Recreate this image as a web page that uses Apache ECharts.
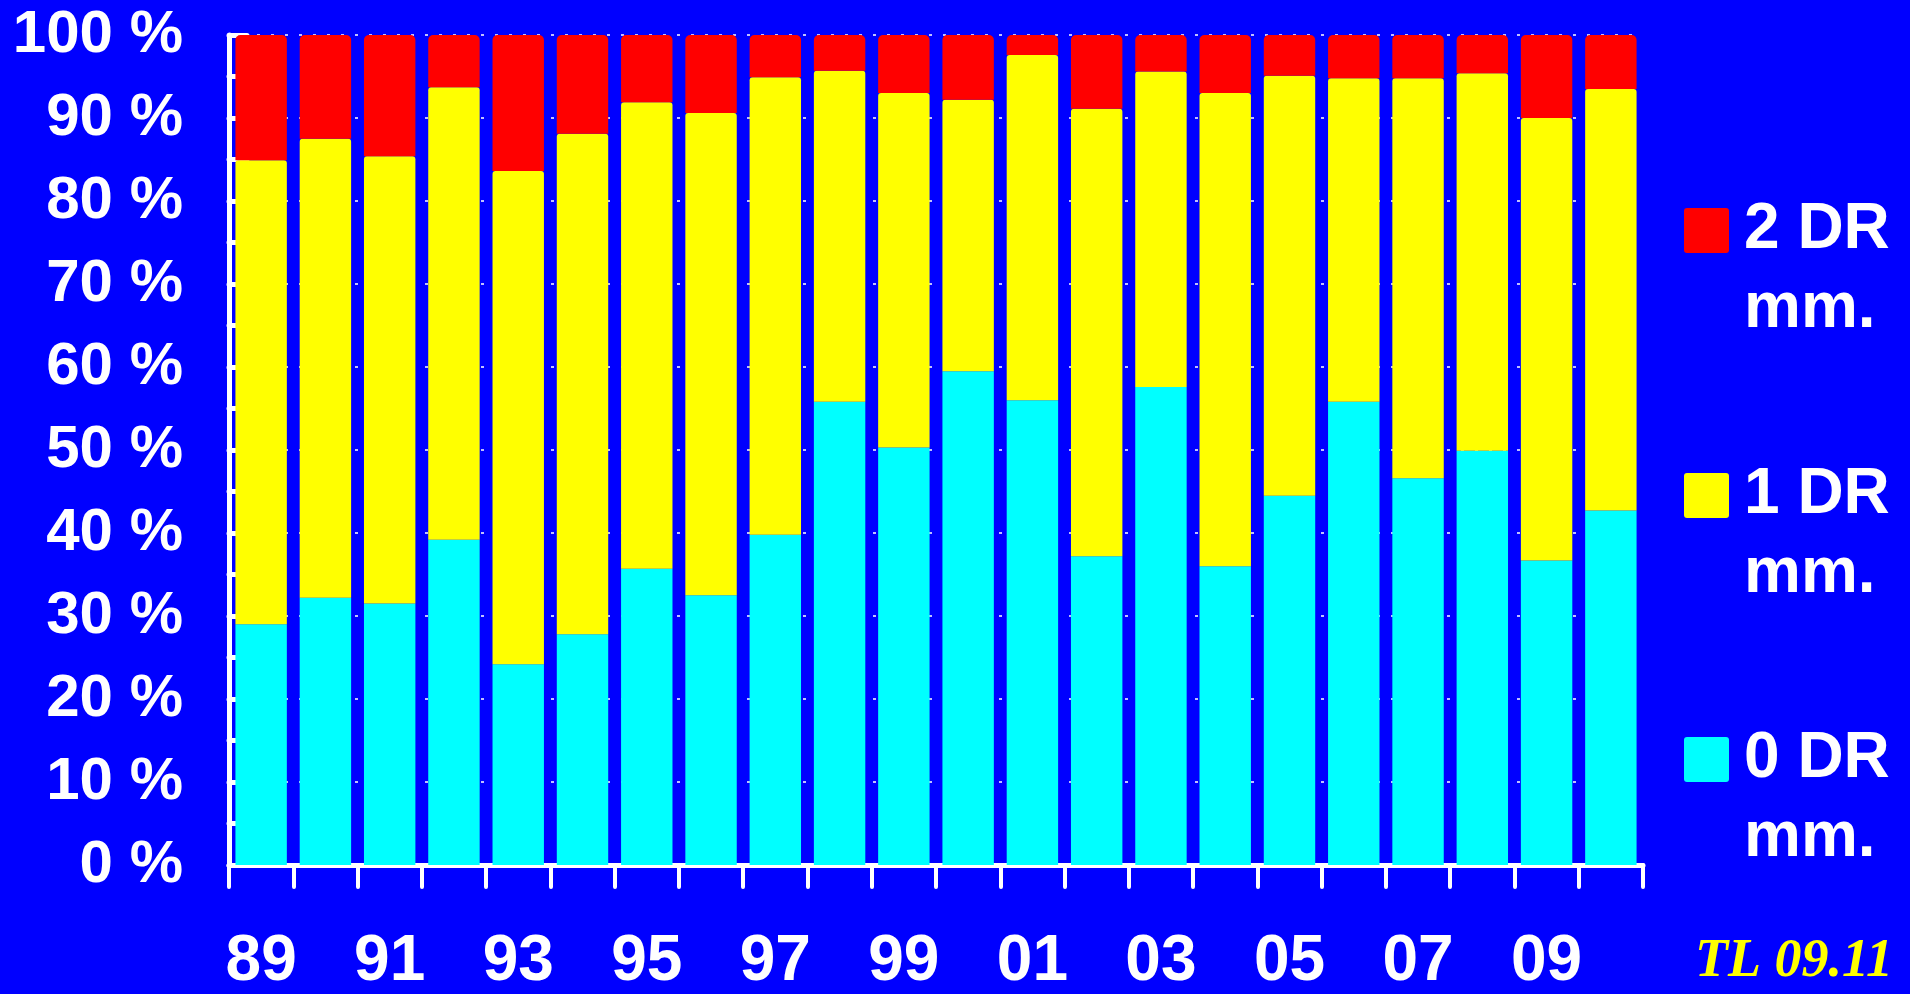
<!DOCTYPE html>
<html>
<head>
<meta charset="utf-8">
<script src="https://cdn.jsdelivr.net/npm/echarts@6/dist/echarts.min.js"></script>
<style>
html,body{margin:0;padding:0;background:#0000ff;}
#chart{width:1910px;height:994px;}
</style>
</head>
<body>
<div id="chart"></div>
<script>
const years = ['89','90','91','92','93','94','95','96','97','98','99','00','01','02','03','04','05','06','07','08','09','10'];
const dr0 = [29.0,32.2,31.5,39.2,24.2,27.8,35.7,32.5,39.8,55.8,50.3,59.5,56.0,37.2,57.6,36.0,44.5,55.8,46.6,49.9,36.7,42.7];
const dr1 = [55.9,55.3,53.9,54.5,59.4,60.3,56.2,58.1,55.1,39.9,42.7,32.7,41.6,53.9,38.0,57.0,50.6,39.0,48.2,45.5,53.3,50.8];
const dr2 = [15.1,12.5,14.6,6.3,16.4,11.9,8.1,9.4,5.1,4.3,7.0,7.8,2.4,8.9,4.4,7.0,4.9,5.2,5.2,4.6,10.0,6.5];
const seriesNames = ['0 DR mm.','1 DR mm.','2 DR mm.'];
const seriesColors = ['#00ffff','#ffff00','#ff0000'];
const yTicks = [0,10,20,30,40,50,60,70,80,90,100];
const stamp = 'TL 09.11';

const chart = echarts.init(document.getElementById('chart'), null, {renderer:'canvas'});
const FONT = '"Liberation Sans", Arial, Helvetica, sans-serif';
const legendTops = [636, 372, 107];
const ICON = 'path://M3,0H42A3,3 0 0 1 45,3V42A3,3 0 0 1 42,45H3A3,3 0 0 1 0,42V3A3,3 0 0 1 3,0Z';

function mkLegend(name, top){
  return {
    data:[name], left:1684, top:top, orient:'vertical', padding:0, itemGap:0,
    itemWidth:45, itemHeight:45, icon:ICON, selectedMode:false,
    formatter: n => '\n' + n.replace(' mm.', '\nmm.'),
    textStyle:{color:'#ffffff', fontFamily:FONT, fontWeight:'bold', fontSize:64, lineHeight:79, padding:[10,0,0,10]}
  };
}

const option = {
  backgroundColor:'#0000ff',
  animation:false,
  title:{
    text:stamp, left:1695, top:935, padding:0,
    textStyle:{color:'#ffff00', fontFamily:'"Liberation Serif", "Times New Roman", serif', fontStyle:'italic', fontWeight:'bold', fontSize:54}
  },
  legend:[mkLegend(seriesNames[0], legendTops[0]), mkLegend(seriesNames[1], legendTops[1]), mkLegend(seriesNames[2], legendTops[2])],
  grid:{left:229, right:267, top:35, bottom:124, containLabel:false},
  xAxis:{
    type:'category', data:years, boundaryGap:true,
    axisLine:{lineStyle:{color:'#ffffff', width:5, cap:'round'}},
    axisTick:{show:true, alignWithLabel:false, interval:0, length:22, lineStyle:{color:'#ffffff', width:4, cap:'round'}},
    axisLabel:{interval:1, margin:65, color:'#ffffff', fontFamily:FONT, fontWeight:'bold', fontSize:64}
  },
  yAxis:{
    type:'value', min:yTicks[0], max:yTicks[yTicks.length-1], interval:10,
    axisLine:{show:true, lineStyle:{color:'#ffffff', width:5, cap:'round'}},
    axisTick:{show:true, inside:true, length:18, lineStyle:{color:'#ffffff', width:5, cap:'round'}},
    minorTick:{show:true, splitNumber:2, length:18, lineStyle:{color:'#ffffff', width:5, cap:'round'}},
    splitLine:{show:true, lineStyle:{color:'#ffffff', width:1.5, type:[3,11]}},
    axisLabel:{margin:46, color:'#ffffff', fontFamily:FONT, fontWeight:'bold', fontSize:60, formatter:'{value} %'}
  },
  series:[
    {name:seriesNames[0], type:'bar', stack:'a', data:dr0, barWidth:'80%', itemStyle:{color:seriesColors[0]}},
    {name:seriesNames[1], type:'bar', stack:'a', data:dr1, barWidth:'80%', itemStyle:{color:seriesColors[1], borderRadius:[3,3,0,0]}},
    {name:seriesNames[2], type:'bar', stack:'a', data:dr2, barWidth:'80%', itemStyle:{color:seriesColors[2], borderRadius:[5,5,0,0]}}
  ]
};
chart.setOption(option);
</script>
</body>
</html>
